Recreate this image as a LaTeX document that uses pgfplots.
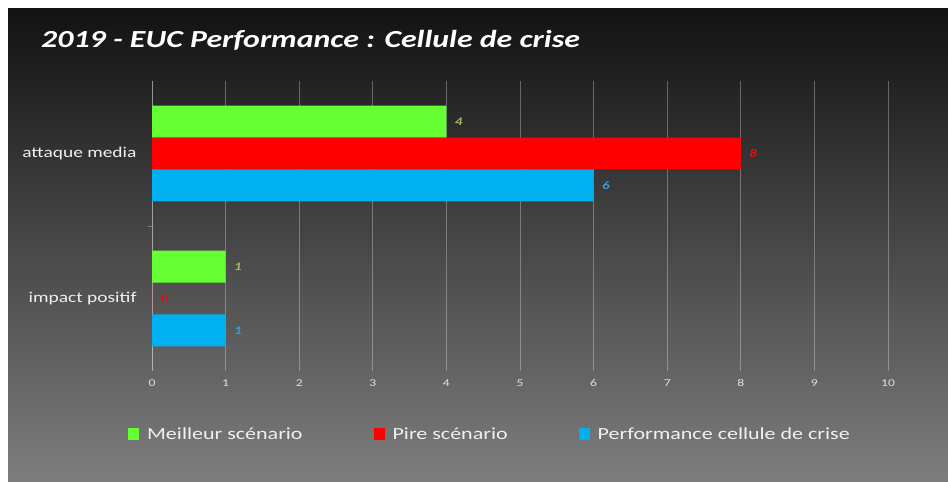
\documentclass[border=0pt]{standalone}
\usepackage{fontspec}
\setmainfont{Carlito}[FakeStretch=1.3]
\usepackage{pgfplots}
\pgfplotsset{compat=1.18}
\definecolor{cgreen}{RGB}{102,255,51}
\definecolor{cred}{RGB}{255,0,0}
\definecolor{cblue}{RGB}{0,176,240}
\definecolor{lgreen}{RGB}{160,185,95}
\definecolor{lred}{RGB}{235,10,20}
\definecolor{lblue}{RGB}{50,160,215}
\definecolor{bgtop}{RGB}{18,18,18}
\definecolor{bgbot}{RGB}{125,125,125}
\definecolor{txt}{RGB}{240,240,240}
\begin{document}
\begin{tikzpicture}[x=1bp,y=1bp]
\useasboundingbox (0,0) rectangle (948,482);
\fill[white] (0,0) rectangle (948,482);
\shade[top color=bgtop,bottom color=bgbot] (8,0) rectangle (948,473);
\node[anchor=base west, inner sep=0pt, text=white, font=\bfseries\itshape\fontsize{24.6}{25}\selectfont] at (41,434.7) {2019 - EUC Performance : Cellule de crise};
\begin{axis}[
  at={(152bp,111bp)}, anchor=south west,
  scale only axis, width=736bp, height=290bp,
  xmin=0, xmax=10, ymin=-0.5, ymax=1.5,
  xtick={0,1,...,10},
  ytick={0,1},
  yticklabels={impact positif, attaque media},
  extra y ticks={0.5},
  extra y tick labels={},
  extra y tick style={major tick length=4bp, tick style={draw=white, draw opacity=0.3, line width=0.8bp}, tick pos=left, tick align=outside},
  major tick length=0pt,
  axis lines*=left,
  x axis line style={draw=none},
  y axis line style={draw=white, draw opacity=0.3, line width=0.8bp},
  xmajorgrids,
  grid style={draw=white, draw opacity=0.3, line width=0.8bp},
  /pgf/number format/assume math mode=true,
  xticklabel style={font=\fontsize{10.5}{11}\selectfont, text=txt!85!gray, yshift=-5bp},
  yticklabel style={font=\fontsize{15}{15}\selectfont, text=txt, xshift=-12bp},
  legend columns=3,
  legend style={at={(-0.0367,-0.217)}, anchor=west, draw=none, fill=none,
    text=txt, font=\fontsize{17}{17}\selectfont,
    /tikz/every odd column/.append style={column sep=6bp},
    /tikz/every even column/.append style={column sep=69bp}},
  legend image code/.code={\fill[#1] (0bp,-6bp) rectangle (11bp,6bp);},
  nodes near coords style={font=\bfseries\itshape\fontsize{11.5}{12}\selectfont, anchor=west, xshift=5bp},
]
\addplot[xbar, bar width=0.22, bar shift=0.22, fill=cgreen, draw=none,
  nodes near coords, nodes near coords style={text=lgreen, yshift=32bp}] coordinates {(4,1) (1,0)};
\addlegendentry{Meilleur scénario}
\addplot[xbar, bar width=0.22, bar shift=0, fill=cred, draw=none,
  nodes near coords, nodes near coords style={text=lred}] coordinates {(8,1) (0,0)};
\addlegendentry{Pire scénario}
\addplot[xbar, bar width=0.22, bar shift=-0.22, fill=cblue, draw=none,
  nodes near coords, nodes near coords style={text=lblue, yshift=-32bp}] coordinates {(6,1) (1,0)};
\addlegendentry{Performance cellule de crise}
\end{axis}
\end{tikzpicture}
\end{document}
